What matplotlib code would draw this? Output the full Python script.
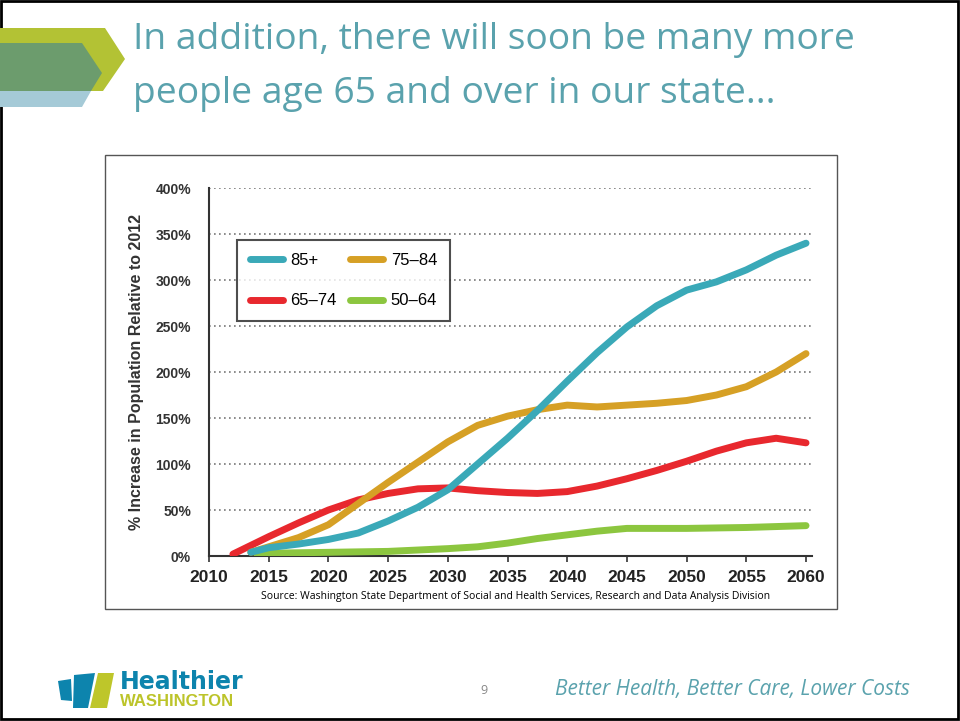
import matplotlib.pyplot as plt
from matplotlib.patches import Polygon, Rectangle

# Percent increase in population relative to 2012
yrs_85 = [2013.5, 2015, 2017.5, 2020, 2022.5, 2025, 2027.5, 2030, 2032.5, 2035,
          2037.5, 2040, 2042.5, 2045, 2047.5, 2050, 2052.5, 2055, 2057.5, 2060]
age_85 = [4, 9, 13, 18, 25, 38, 53, 72, 100, 128,
          158, 190, 221, 249, 272, 289, 298, 311, 327, 340]

yrs_75 = [2013.5, 2015, 2017.5, 2020, 2022.5, 2025, 2027.5, 2030, 2032.5, 2035,
          2037.5, 2040, 2042.5, 2045, 2047.5, 2050, 2052.5, 2055, 2057.5, 2060]
age_75 = [4, 10, 20, 34, 57, 80, 102, 124, 142, 152,
          159, 164, 162, 164, 166, 169, 175, 184, 200, 220]

yrs_65 = [2012, 2015, 2017.5, 2020, 2022.5, 2025, 2027.5, 2030, 2032.5, 2035,
          2037.5, 2040, 2042.5, 2045, 2047.5, 2050, 2052.5, 2055, 2057.5, 2060]
age_65 = [2, 21, 36, 50, 61, 68, 73, 74, 71, 69,
          68, 70, 76, 84, 93, 103, 114, 123, 128, 123]

yrs_50 = [2014, 2015, 2020, 2025, 2030, 2032.5, 2035, 2037.5, 2040, 2042.5,
          2045, 2050, 2055, 2060]
age_50 = [2, 3, 4, 5, 8, 10, 14, 19, 23, 27,
          30, 30, 31, 33]

x_ticks = [2010, 2015, 2020, 2025, 2030, 2035, 2040, 2045, 2050, 2055, 2060]
y_ticks = [0, 50, 100, 150, 200, 250, 300, 350, 400]

teal = '#3aa9b8'
gold = '#d6a025'
red = '#e8282e'
green = '#8cc63f'
title_col = '#5aa2ad'
chart_font = 'Liberation Sans'

fig = plt.figure(figsize=(9.6, 7.21), dpi=100)

# background layer in pixel coordinates for the slide decorations
bg = fig.add_axes([0, 0, 1, 1])
bg.set_xlim(0, 960)
bg.set_ylim(721, 0)
bg.axis('off')

bg.add_patch(Rectangle((1, 1), 957, 718, fill=False, edgecolor='black', lw=2))

# header chevrons
bg.add_patch(Polygon([(0, 28), (105, 28), (125, 59), (103, 91), (0, 91)], color='#b3c234', lw=0))
bg.add_patch(Polygon([(0, 43), (82, 43), (102, 73), (91, 91), (0, 91)], color='#6c9c6d', lw=0))
bg.add_patch(Polygon([(0, 91), (91, 91), (82, 107), (0, 107)], color='#a5cad7', lw=0))

bg.text(133, 40, 'In addition, there will soon be many more', fontsize=26.8,
        family='Open Sans', color=title_col, va='center', ha='left')
bg.text(133, 94, 'people age 65 and over in our state...', fontsize=26.8,
        family='Open Sans', color=title_col, va='center', ha='left')

# chart frame
bg.add_patch(Rectangle((105, 155), 732, 454, fill=False, edgecolor='#555555', lw=1))
bg.text(516, 596, 'Source: Washington State Department of Social and Health Services, '
        'Research and Data Analysis Division', fontsize=7.5, family='Open Sans',
        color='black', ha='center', va='center')

# footer logo
bg.add_patch(Polygon([(58, 681), (71, 679), (72, 701), (61, 700)], color='#0d84ad', lw=0))
bg.add_patch(Polygon([(74, 675), (95, 673), (88, 708), (73, 708)], color='#0d84ad', lw=0))
bg.add_patch(Polygon([(98, 673), (114, 673), (107, 708), (90, 708)], color='#bec62a', lw=0))
bg.text(120, 682, 'Healthier', fontsize=17, fontweight='bold', family='DejaVu Sans',
        color='#0d84ad', va='center', ha='left')
bg.text(120, 702, 'WASHINGTON', fontsize=12, fontweight='bold', family=chart_font,
        color='#bcc42a', va='center', ha='left')
bg.text(484, 690, '9', fontsize=9, color='#888888', family='Open Sans', ha='center', va='center')
bg.text(910, 690, 'Better Health, Better Care, Lower Costs', fontsize=15, style='italic',
        family='Open Sans', color=title_col, ha='right', va='center')

# main chart
ax = fig.add_axes([209 / 960, 1 - 556 / 721, 603 / 960, 368 / 721])
kw = dict(lw=5, solid_capstyle='round', solid_joinstyle='round')
ax.plot(yrs_50, age_50, color=green, label='50\u201364', zorder=3, **kw)
ax.plot(yrs_65, age_65, color=red, label='65\u201374', zorder=4, **kw)
ax.plot(yrs_75, age_75, color=gold, label='75\u201384', zorder=5, **kw)
ax.plot(yrs_85, age_85, color=teal, label='85+', zorder=6, **kw)

ax.set_xlim(2010, 2060.5)
ax.set_ylim(0, 400)
ax.set_xticks(x_ticks)
ax.set_xticklabels([str(y) for y in x_ticks], fontsize=12.5, fontweight='bold',
                   color='#222222', family=chart_font)
ax.set_yticks(y_ticks)
ax.set_yticklabels([f'{v}%' for v in y_ticks], fontsize=10, fontweight='bold',
                   color='#333333', family=chart_font)
ax.tick_params(axis='y', length=0, pad=13)
ax.tick_params(axis='x', length=4, width=1.2, color='#333333', pad=6)
ax.yaxis.grid(True, linestyle=(0, (1, 2)), color='#777777', lw=1.2)
ax.set_axisbelow(True)
for s in ['top', 'right']:
    ax.spines[s].set_visible(False)
for s in ['left', 'bottom']:
    ax.spines[s].set_color('#333333')
    ax.spines[s].set_linewidth(1.5)
ax.set_ylabel('% Increase in Population Relative to 2012', fontsize=11.5, fontweight='bold',
              color='#333333', labelpad=8, family=chart_font)

h, l = ax.get_legend_handles_labels()
order = [3, 1, 2, 0]
leg = ax.legend([h[i] for i in order], [l[i] for i in order], ncol=2,
                prop={'family': chart_font, 'size': 12},
                loc='upper left', bbox_to_anchor=(28 / 603, 316 / 368), borderaxespad=0,
                frameon=True, fancybox=False, edgecolor='#222222', handlelength=2.0,
                handletextpad=0.45, columnspacing=0.8, labelspacing=1.55, borderpad=0.75)
leg.get_frame().set_linewidth(1.5)
leg.set_zorder(10)

fig.savefig('out.png', dpi=100)
